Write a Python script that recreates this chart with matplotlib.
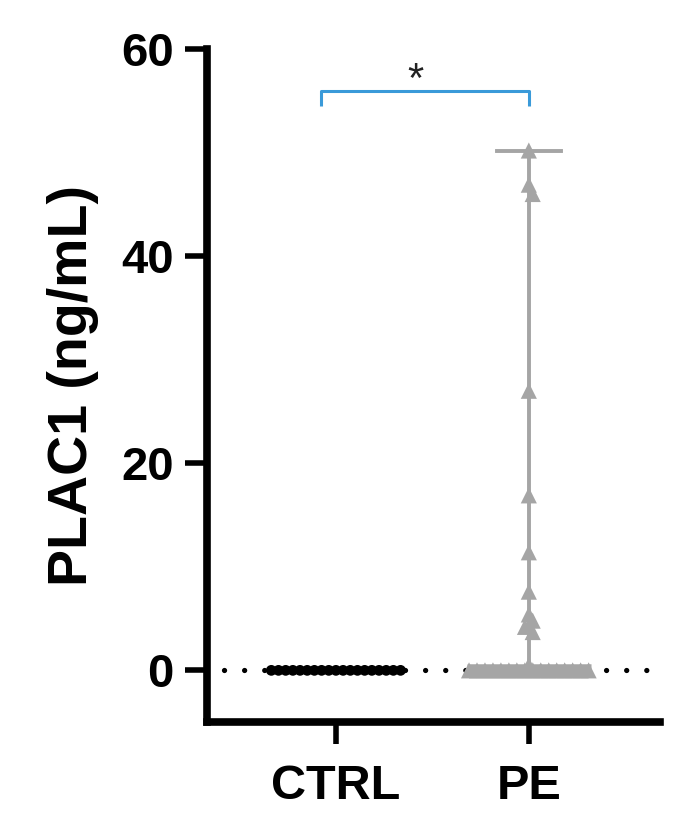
#!/usr/bin/env python3

import numpy as np
import matplotlib
matplotlib.use("Agg")
import matplotlib.pyplot as plt

plt.rcParams["font.family"] = ["Liberation Sans", "DejaVu Sans"]

GROUPS = ["CTRL", "PE"]
CTRL_VALUES = [0.0] * 19
PE_VALUES = [50.2, 46.9, 46.0, 27.0, 16.9, 11.4, 7.6, 5.4, 4.8, 4.2, 3.7, 0.5] + [0.0] * 16
Y_TICKS = [0, 20, 40, 60]
SIG_LABEL = "*"

C_CTRL = "black"
C_PE = "#a5a5a5"
C_SIG = "#3a9ad9"


def spread_x(vals, center, halfwidth, tol):
    # lay out points: equal values are fanned out across halfwidth,
    # near-equal values get small alternating offsets
    vals = np.asarray(vals, dtype=float)
    xs = np.full(len(vals), center, dtype=float)
    uniq, counts = np.unique(vals, return_counts=True)
    for u, c in zip(uniq, counts):
        if c > 1:
            idx = np.where(vals == u)[0]
            xs[idx] = center + np.linspace(-halfwidth, halfwidth, c)
    order = np.argsort(-vals)
    prev = None
    sign = 1
    for i in order:
        if counts[np.searchsorted(uniq, vals[i])] > 1:
            continue
        if prev is not None and abs(prev - vals[i]) < tol:
            xs[i] = center + sign * 0.02
            sign = -sign
        else:
            sign = 1
        prev = vals[i]
    return xs


fig = plt.figure(figsize=(6.88, 8.31), dpi=100)
ax = fig.add_axes([0.301, 0.131, 0.658, 0.810])

ax.set_xlim(-0.668, 1.679)
ax.set_ylim(-5, 60)

# dotted zero line
ax.plot([-0.58, 1.66], [0, 0], color="black", lw=3.8,
        linestyle=(0, (0.01, 3.8)), dash_capstyle="round", zorder=1)

# CTRL points
x_ctrl = spread_x(CTRL_VALUES, 0, 0.335, 1.0)
ax.scatter(x_ctrl, CTRL_VALUES, s=60, marker="o", color=C_CTRL,
           edgecolor="none", zorder=3)

# PE range + median
pe = np.array(PE_VALUES)
ax.plot([1, 1], [pe.min(), pe.max()], color=C_PE, lw=2.8, zorder=2)
ax.plot([1 - 0.166, 1 + 0.166], [pe.max(), pe.max()], color=C_PE, lw=2.8, zorder=2)
ax.plot([1 - 0.32, 1 + 0.32], [np.median(pe), np.median(pe)], color=C_PE,
        lw=9, solid_capstyle="butt", zorder=2)

x_pe = spread_x(PE_VALUES, 1, 0.31, 1.0)
ax.scatter(x_pe, PE_VALUES, s=135, marker="^", color=C_PE,
           edgecolor="none", zorder=3)

# significance bracket
y_br, y_drop = 55.9, 54.5
ax.plot([-0.075, -0.075, 1, 1], [y_drop, y_br, y_br, y_drop],
        color=C_SIG, lw=2.2, solid_capstyle="butt", zorder=4)
ax.text(0.41, 55.0, SIG_LABEL, ha="center", va="bottom",
        fontsize=30, color="#222222")

ax.set_xticks(range(len(GROUPS)))
ax.set_xticklabels(GROUPS, fontsize=35, fontweight="bold")
ax.set_yticks(Y_TICKS)
ax.set_yticklabels([str(v) for v in Y_TICKS], fontsize=34, fontweight="bold")
ax.set_ylabel("PLAC1 (ng/mL)", fontsize=40, fontweight="bold", labelpad=16)

for side in ["top", "right"]:
    ax.spines[side].set_visible(False)
for side in ["left", "bottom"]:
    ax.spines[side].set_linewidth(5.5)
ax.spines["left"].set_bounds(-5, 60)
ax.tick_params(axis="both", width=4, length=16, direction="out", pad=8)
ax.tick_params(axis="x", pad=14)

fig.savefig("out.png", dpi=100, facecolor="white")
